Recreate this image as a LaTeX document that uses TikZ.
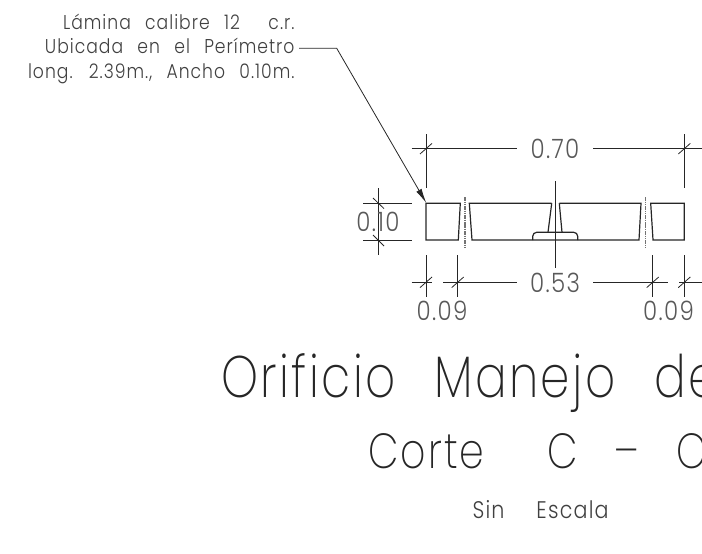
\documentclass[tikz,border=0pt]{standalone}
\usepackage{fontspec}
\usetikzlibrary{arrows.meta}
\newfontfamily\cadfont[UprightFont=* Light,FakeStretch=0.86,LetterSpace=5,WordSpace=2.5]{Poppins}
\newfontfamily\cadtitlefont[UprightFont=* ExtraLight,FakeStretch=0.8,LetterSpace=4,WordSpace=2.5]{Poppins}
\tikzset{every picture/.style={line width=0.75pt}}
\tikzset{
	section/.style={line width=0.9pt,color=black!85},
	dimline/.style={line width=0.6pt,color=black!85},
	cutline/.style={line width=0.8pt,color=black!55,dash pattern=on 1.2pt off 0.5pt},
	leader/.style={line width=0.6pt,color=black!85},
	notetext/.style={inner sep=0pt,anchor=base east,text=black!75,font=\cadfont\fontsize{15}{15}\selectfont},
	dimtext/.style={inner sep=0pt,anchor=base,text=black!65,font=\cadfont\fontsize{20}{20}\selectfont},
	titletext/.style={inner sep=0pt,anchor=base west,text=black!85,font=\cadtitlefont\fontsize{44}{44}\selectfont},
	subtitletext/.style={inner sep=0pt,anchor=base west,text=black!85,font=\cadtitlefont\fontsize{37}{37}\selectfont},
	scaletext/.style={inner sep=0pt,anchor=base west,text=black!75,font=\cadfont\fontsize{18}{18}\selectfont}}

\begin{document}
\begin{tikzpicture}[x=0.75pt,y=0.75pt,yscale=-1,xscale=1]
	\useasboundingbox (0,0) rectangle (702,553);
	\clip (0,0) rectangle (702,553);

	%Section: left block
	\draw [section] (426,203.3) -- (460.3,203.3) -- (458.3,240) -- (426,240) -- cycle ;
	%Section: middle left
	\draw [section] (551.7,203.3) -- (469.3,203.3) -- (472,240) -- (639,240) -- (641,203.3) -- (559.3,203.3) ;
	%Section: right block
	\draw [section] (684.3,203.3) -- (650.7,203.3) -- (653,240) -- (684.3,240) -- cycle ;
	%Section: centre keyway
	\draw [section] (551.7,203.3) -- (548,232.3) ;
	\draw [section] (559.3,203.3) -- (562,232.3) ;
	\draw [section,rounded corners=3pt] (532.7,240) -- (532.7,232.3) -- (577.7,232.3) -- (577.7,240) ;
	%Cut lines
	\draw [cutline] (465,197) -- (465,247) ;
	\draw [cutline] (645.7,197) -- (645.7,247) ;
	\draw [dimline] (555,181) -- (555,268) ;

	%Dimension 0.70
	\draw [dimline] (426,134) -- (426,188) ;
	\draw [dimline] (684.3,134) -- (684.3,188) ;
	\draw [dimline] (411.7,148.7) -- (516.7,148.7) ;
	\draw [dimline] (593.3,148.7) -- (702,148.7) ;
	\draw [dimline] (420,154) -- (432,143.4) ;
	\draw [dimline] (678.3,154) -- (690.3,143.4) ;

	%Dimension 0.10
	\draw [dimline] (378,188.3) -- (378,255) ;
	\draw [dimline] (363.3,203.3) -- (411.7,203.3) ;
	\draw [dimline] (363.3,240) -- (411.7,240) ;
	\draw [dimline] (373,198) -- (384,208.6) ;
	\draw [dimline] (373,235) -- (384,246) ;

	%Dimension 0.53 and 0.09
	\draw [dimline] (426,255) -- (426,296.7) ;
	\draw [line width=0.9pt,color=black!85] (457.7,255) -- (457.7,296.7) ;
	\draw [line width=0.9pt,color=black!85] (652.7,255) -- (652.7,296.7) ;
	\draw [dimline] (684.3,255) -- (684.3,296.7) ;
	\draw [dimline] (411.7,282.3) -- (431.7,282.3) ;
	\draw [dimline] (443,282.3) -- (516.7,282.3) ;
	\draw [dimline] (593.3,282.3) -- (668.3,282.3) ;
	\draw [dimline] (679.3,282.3) -- (702,282.3) ;
	\draw [dimline] (420,287.6) -- (432,277) ;
	\draw [dimline] (451.7,287.6) -- (463.7,277) ;
	\draw [dimline] (646.7,287.6) -- (658.7,277) ;
	\draw [dimline] (678.3,287.6) -- (690.3,277) ;

	% Text Node
	\node [notetext] (noteone) at (295,29) {Lámina calibre 12~~c.r.};
	% Text Node
	\node [notetext] (notetwo) at (295,53.5) {Ubicada en el Perímetro};
	% Text Node
	\node [notetext] (notethree) at (295,78) {long. 2.39m., Ancho 0.10m.};

	%Leader
	\coordinate (leaderknee) at (336.7,48.3);
	\coordinate (leadertip) at (426.3,203);
	\draw [leader,-{Latex[length=11pt,width=4.5pt]}] (notetwo.east |- leaderknee) ++(4,0) -- (leaderknee) -- (leadertip) ;

	% Text Node
	\node [dimtext] (dimtotal) at (555,158) {0.70};
	% Text Node
	\node [dimtext] (dimheight) at (378,231.7) {0.10};
	% Text Node
	\node [dimtext] (diminner) at (555,292) {0.53};
	% Text Node
	\node [dimtext] (dimleft) at (442,320.7) {0.09};
	% Text Node
	\node [dimtext] (dimright) at (668.5,320.7) {0.09};
	% Text Node
	\node [titletext] (title) at (221,397) {Orificio Manejo de};
	% Text Node
	\node [subtitletext] (subtitle) at (368,468) {Corte\hspace{47pt}C\hspace{28pt}–\hspace{28pt}C};
	% Text Node
	\node [scaletext] (scale) at (472,518) {Sin\hspace{24pt}Escala};
\end{tikzpicture}
\end{document}
